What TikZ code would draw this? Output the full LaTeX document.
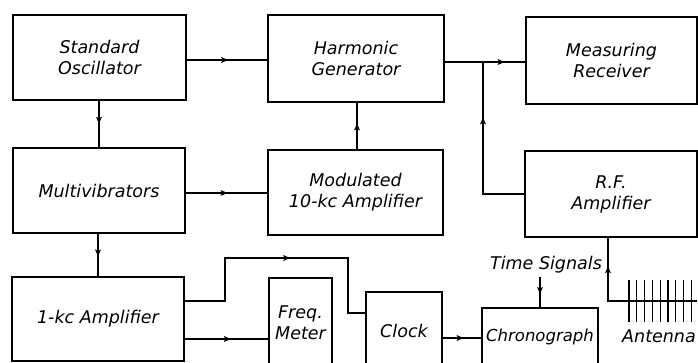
\documentclass[tikz,border=0pt]{standalone}
\usepackage{fontspec}
\setmainfont{DejaVu Sans}
\usetikzlibrary{arrows.meta,decorations.markings,calc}
\tikzset{
  box/.style={draw, line width=1.5pt, align=center, inner sep=0pt,
    font=\itshape\fontsize{17.5}{21}\selectfont},
  lab/.style={align=center, inner sep=3pt, font=\itshape\fontsize{17.5}{21}\selectfont},
  conn/.style={line width=1.1pt},
  midarrow/.style={postaction={decorate}, decoration={markings,
    mark=at position #1 with {\fill (3.5pt,0pt) -- (-3.5pt,3pt) -- (-2pt,0pt) -- (-3.5pt,-3pt) -- cycle;}}}
}
\begin{document}
\begin{tikzpicture}[x=1pt,y=-1pt]
\useasboundingbox (0,0) rectangle (698,363);
\clip (0,0) rectangle (698,363);
\fill[white] (0,0) rectangle (698,363);

% boxes
\node[box, minimum width=173pt, minimum height=85pt] (SO) at (99.5,57.5) {Standard\\Oscillator};
\node[box, minimum width=176pt, minimum height=87pt] (HG) at (356,58.5) {Harmonic\\Generator};
\node[box, minimum width=171pt, minimum height=87pt] (MR) at (611.5,60.5) {Measuring\\Receiver};
\node[box, minimum width=172pt, minimum height=85pt] (MV) at (99,190.5) {Multivibrators};
\node[box, minimum width=175pt, minimum height=85pt] (MA) at (355.5,192.5) {Modulated\\10-kc Amplifier};
\node[box, minimum width=172pt, minimum height=84pt] (K) at (98,319) {1-kc Amplifier};
\node[box, minimum width=172pt, minimum height=86pt] (RF) at (611,194) {R.F.\\Amplifier};
\node[box, minimum width=63pt, minimum height=90pt] (FM) at (300.5,323) {Freq.\\Meter};
\node[box, minimum width=76pt, minimum height=78pt] (CL) at (404,331) {Clock};
\node[box, minimum width=116pt, minimum height=58pt, font=\itshape\fontsize{16.5}{21}\selectfont] (CH) at (540,337) {Chronograph};

% labels
\node[lab] (TS) at (546,265) {Time Signals};
\node[lab] (AN) at (659,336) {Antenna};

% junction and antenna coordinates
\coordinate (J) at (483,62);
\coordinate (ANT) at (697,301);

% connectors
\draw[conn, midarrow=0.47] (SO.east |- 0,60) -- (HG.west |- 0,60);
\draw[conn, midarrow=0.42] (SO.south -| 99,0) -- (MV.north -| 99,0);
\draw[conn, midarrow=0.7] (HG.east |- J) -- (MR.west |- J);
\draw[conn, midarrow=0.66] (RF.west) -| (J);
\draw[conn, midarrow=0.48] (MA.north -| 357,0) -- (HG.south -| 357,0);
\draw[conn, midarrow=0.47] (MV.east |- 0,193) -- (MA.west |- 0,193);
\draw[conn, midarrow=0.45] (MV.south -| 98,0) -- (K.north -| 98,0);
\draw[conn, midarrow=0.52] (K.east |- 0,301) -- (225,301) -- (225,258) -- (348,258) -- (348,313) -- (CL.west |- 0,313);
\draw[conn, midarrow=0.51] (K.east |- 0,339) -- (FM.west |- 0,339);
\draw[conn, midarrow=0.45] (CL.east |- 0,338) -- (CH.west |- 0,338);
\draw[conn, midarrow=0.45] (TS.south -| CH.north) -- (CH.north);
\draw[conn, midarrow=0.79] (ANT) -| (RF.south -| 608,0);

% antenna elements
\foreach \i in {0,...,8} {
  \draw[line width=1.3pt] ({629+7.8*\i},280) -- ({629+7.8*\i},322);
}
\end{tikzpicture}
\end{document}
